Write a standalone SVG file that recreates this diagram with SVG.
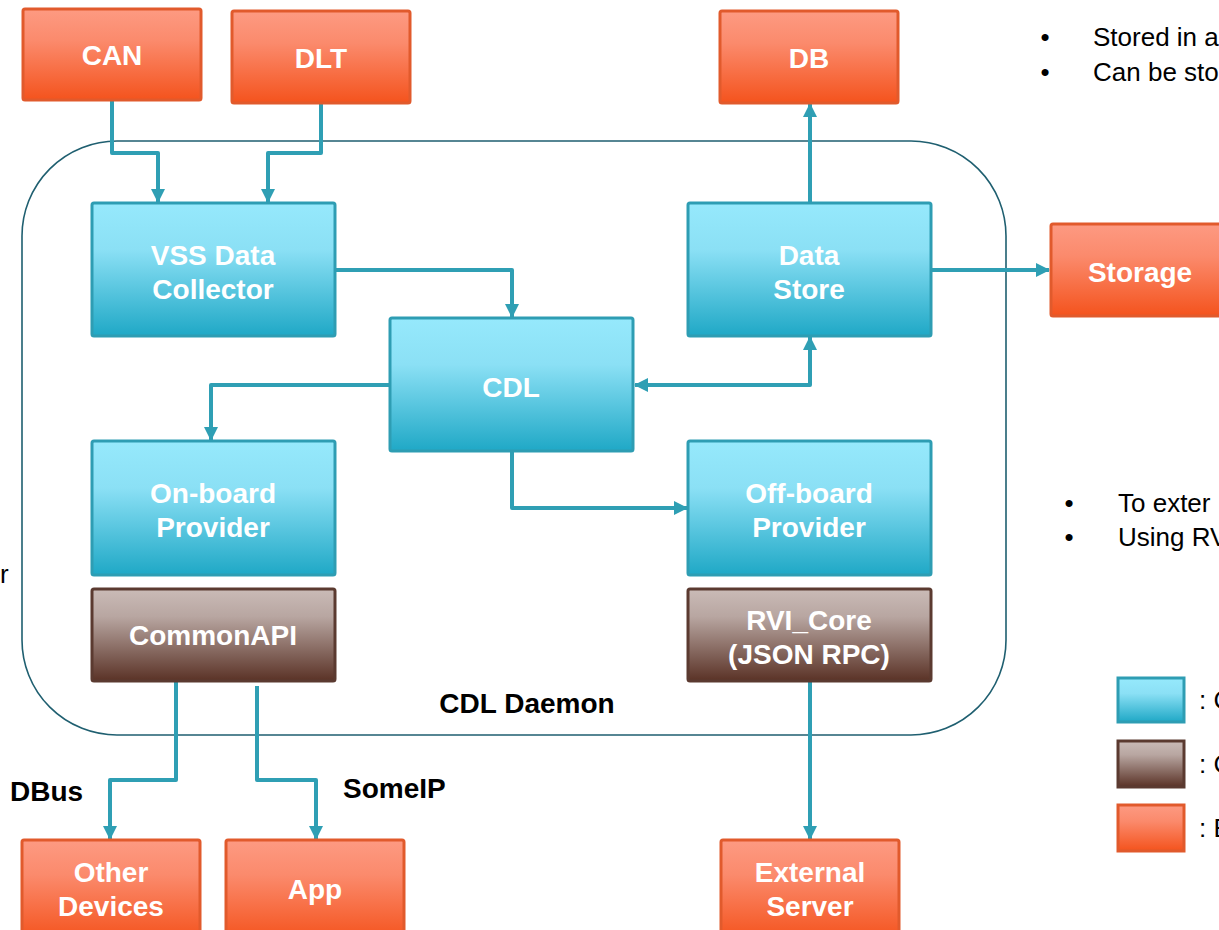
<svg xmlns="http://www.w3.org/2000/svg" width="1219" height="930" viewBox="0 0 1219 930">
  <defs>
    <linearGradient id="gBlue" x1="0" y1="0" x2="0" y2="1">
      <stop offset="0" stop-color="#96e9fc"/>
      <stop offset="0.35" stop-color="#8be0f5"/>
      <stop offset="1" stop-color="#1fa8c6"/>
    </linearGradient>
    <linearGradient id="gBrown" x1="0" y1="0" x2="0" y2="1">
      <stop offset="0" stop-color="#cabbb7"/>
      <stop offset="0.3" stop-color="#b8a6a1"/>
      <stop offset="1" stop-color="#5a3226"/>
    </linearGradient>
    <linearGradient id="gOrange" x1="0" y1="0" x2="0" y2="1">
      <stop offset="0" stop-color="#fd9a82"/>
      <stop offset="0.35" stop-color="#fb8a6c"/>
      <stop offset="1" stop-color="#f4531d"/>
    </linearGradient>
    <marker id="arr" viewBox="0 0 14 14" refX="13" refY="7" markerWidth="14" markerHeight="14" markerUnits="userSpaceOnUse" orient="auto-start-reverse">
      <path d="M0,0 L14,7 L0,14 Z" fill="#2f9fb4"/>
    </marker>
    <style>
      .blue { fill: url(#gBlue); stroke: #2e9db3; stroke-width: 3; }
      .brown { fill: url(#gBrown); stroke: #5b3a30; stroke-width: 3; }
      .orange { fill: url(#gOrange); stroke: #e15a2c; stroke-width: 3; }
      .nt { font-family: "Liberation Sans", Arial, sans-serif; font-weight: bold; font-size: 28px; fill: #ffffff; text-anchor: middle; }
      .lbl { font-family: "Liberation Sans", Arial, sans-serif; font-weight: bold; font-size: 28px; fill: #000000; }
      .txt { font-family: "Liberation Sans", Arial, sans-serif; font-size: 26px; fill: #000000; }
      .conn { fill: none; stroke: #2f9fb4; stroke-width: 4; stroke-linejoin: round; }
      .daemon { fill: none; stroke: #1f5f70; stroke-width: 1.6; }
    </style>
  </defs>

  <rect width="1219" height="930" fill="#ffffff"/>

  <!-- daemon boundary -->
  <rect id="cdl-daemon" class="daemon" x="22" y="141" width="984" height="594" rx="95" ry="95"/>
  <text class="lbl" x="527" y="713" text-anchor="middle">CDL Daemon</text>

  <!-- connectors -->
  <g id="connectors">
    <path class="conn" d="M112,100 V153 H158 V202" marker-end="url(#arr)"/>
    <path class="conn" d="M321,103 V153 H268 V202" marker-end="url(#arr)"/>
    <path class="conn" d="M335,270 H512 V317" marker-end="url(#arr)"/>
    <path class="conn" d="M810,203 V104" marker-end="url(#arr)"/>
    <path class="conn" d="M931,270 H1049" marker-end="url(#arr)"/>
    <path class="conn" d="M635,385 H810 V337" marker-start="url(#arr)" marker-end="url(#arr)"/>
    <path class="conn" d="M390,385 H211 V440" marker-end="url(#arr)"/>
    <path class="conn" d="M512,451 V508 H687" marker-end="url(#arr)"/>
    <path class="conn" d="M176,681 V780 H110 V839" marker-end="url(#arr)"/>
    <path class="conn" d="M257,686 V780 H316 V839" marker-end="url(#arr)"/>
    <path class="conn" d="M810,681 V839" marker-end="url(#arr)"/>
  </g>

  <!-- external sources and sinks -->
  <g id="can">
    <rect class="orange" x="23" y="9" width="178" height="91" rx="2"/>
    <text class="nt" x="112" y="65">CAN</text>
  </g>
  <g id="dlt">
    <rect class="orange" x="232" y="11" width="178" height="92" rx="2"/>
    <text class="nt" x="321" y="68">DLT</text>
  </g>
  <g id="db">
    <rect class="orange" x="720" y="11" width="178" height="92" rx="2"/>
    <text class="nt" x="809" y="68">DB</text>
  </g>
  <g id="storage">
    <rect class="orange" x="1051" y="224" width="180" height="92" rx="2"/>
    <text class="nt" x="1140" y="282">Storage</text>
  </g>
  <g id="other-devices">
    <rect class="orange" x="22" y="840" width="178" height="100" rx="2"/>
    <text class="nt" x="111" y="882">Other</text>
    <text class="nt" x="111" y="916">Devices</text>
  </g>
  <g id="app">
    <rect class="orange" x="226" y="840" width="178" height="100" rx="2"/>
    <text class="nt" x="315" y="899">App</text>
  </g>
  <g id="external-server">
    <rect class="orange" x="721" y="840" width="178" height="100" rx="2"/>
    <text class="nt" x="810" y="882">External</text>
    <text class="nt" x="810" y="916">Server</text>
  </g>

  <!-- daemon components -->
  <g id="vss-data-collector">
    <rect class="blue" x="92" y="203" width="243" height="133" rx="2"/>
    <text class="nt" x="213" y="265">VSS Data</text>
    <text class="nt" x="213" y="299">Collector</text>
  </g>
  <g id="data-store">
    <rect class="blue" x="688" y="203" width="243" height="133" rx="2"/>
    <text class="nt" x="809" y="265">Data</text>
    <text class="nt" x="809" y="299">Store</text>
  </g>
  <g id="cdl">
    <rect class="blue" x="390" y="318" width="243" height="133" rx="2"/>
    <text class="nt" x="511" y="397">CDL</text>
  </g>
  <g id="onboard-provider">
    <rect class="blue" x="92" y="441" width="243" height="134" rx="2"/>
    <text class="nt" x="213" y="503">On-board</text>
    <text class="nt" x="213" y="537">Provider</text>
  </g>
  <g id="offboard-provider">
    <rect class="blue" x="688" y="441" width="243" height="134" rx="2"/>
    <text class="nt" x="809" y="503">Off-board</text>
    <text class="nt" x="809" y="537">Provider</text>
  </g>
  <g id="commonapi">
    <rect class="brown" x="92" y="589" width="243" height="92" rx="2"/>
    <text class="nt" x="213" y="645">CommonAPI</text>
  </g>
  <g id="rvi-core">
    <rect class="brown" x="688" y="589" width="243" height="92" rx="2"/>
    <text class="nt" x="809" y="630">RVI_Core</text>
    <text class="nt" x="809" y="664">(JSON RPC)</text>
  </g>

  <!-- transport labels -->
  <text class="lbl" x="10" y="801">DBus</text>
  <text class="lbl" x="343" y="798">SomeIP</text>

  <!-- notes -->
  <g id="notes">
    <text class="txt" x="1045" y="46" text-anchor="middle">•</text>
    <text class="txt" x="1093" y="46">Stored in a</text>
    <text class="txt" x="1045" y="81" text-anchor="middle">•</text>
    <text class="txt" x="1093" y="81">Can be sto</text>
    <text class="txt" x="1069" y="512" text-anchor="middle">•</text>
    <text class="txt" x="1118" y="512">To exter</text>
    <text class="txt" x="1069" y="546" text-anchor="middle">•</text>
    <text class="txt" x="1118" y="546">Using RV</text>
    <text class="txt" x="0" y="583">r</text>
  </g>

  <!-- legend -->
  <g id="legend">
    <rect class="blue" x="1118" y="678" width="66" height="44" stroke-width="2"/>
    <text class="txt" x="1199" y="709">: C</text>
    <rect class="brown" x="1118" y="741" width="66" height="46" stroke-width="2"/>
    <text class="txt" x="1199" y="773">: C</text>
    <rect class="orange" x="1118" y="805" width="66" height="46" stroke-width="2"/>
    <text class="txt" x="1199" y="837">: E</text>
  </g>
</svg>
